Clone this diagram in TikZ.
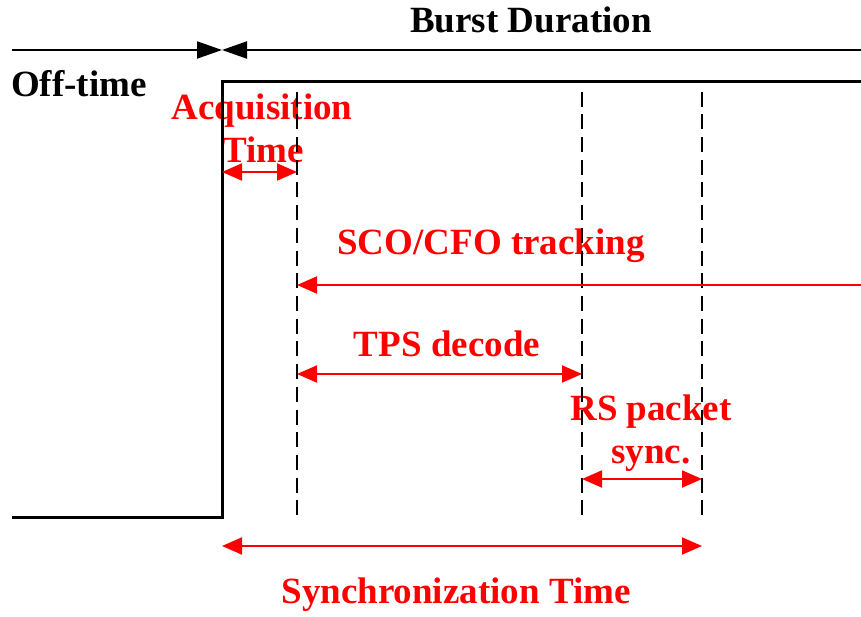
\documentclass[tikz,border=0pt]{standalone}
\usepackage{fontspec}
\setmainfont{Liberation Serif}
\usetikzlibrary{arrows.meta}
\tikzset{
  lbl/.style={font=\fontsize{37}{44}\selectfont\bfseries, inner sep=0pt, anchor=base},
  redlbl/.style={lbl, text=red},
  sig/.style={line width=3pt, black},
  guide/.style={line width=2.5pt, black, dash pattern=on 15pt off 7.7pt, dash phase=15pt},
  dim/.style={line width=2pt, red},
  redtip/.tip={Triangle[length=20pt,width=17pt]},
  blktip/.tip={Triangle[length=25pt,width=17pt]}
}
\begin{document}
\begin{tikzpicture}[x=1pt,y=-1pt]
\useasboundingbox (0,0) rectangle (861,617);
% coordinates
\coordinate (tl) at (12,50);
\coordinate (tm) at (222,50);
\coordinate (tr) at (861,50);
\coordinate (s0) at (12,517);
\coordinate (s1) at (222,517);
\coordinate (s2) at (222,82);
\coordinate (s3) at (861,82);
\coordinate (d1t) at (297,84);
\coordinate (d1b) at (297,517);
\coordinate (d2t) at (582,84);
\coordinate (d2b) at (582,517);
\coordinate (d3t) at (702,84);
\coordinate (d3b) at (702,517);
\coordinate (acqL) at (222,172);
\coordinate (acqR) at (297,172);
\coordinate (scoL) at (297,285);
\coordinate (scoR) at (861,285);
\coordinate (tpsL) at (297,374);
\coordinate (tpsR) at (582,374);
\coordinate (rsL) at (582,479);
\coordinate (rsR) at (702,479);
\coordinate (syL) at (222,546);
\coordinate (syR) at (702,546);
% texts
\node[lbl] (burst) at (531,33) {Burst Duration};
\node[lbl, anchor=base west] (off) at (11,97) {Off-time};
\node[redlbl] (acq1) at (262,120) {Acquisition};
\node[redlbl] (acq2) at (263,163) {Time};
\node[redlbl] (sco) at (491,255) {SCO/CFO tracking};
\node[redlbl] (tps) at (447,356) {TPS decode};
\node[redlbl] (rs1) at (651,420) {RS packet};
\node[redlbl] (rs2) at (651,463) {sync.};
\node[redlbl] (sy) at (456,603) {Synchronization Time};
% top duration arrows
\draw[line width=2pt, -{blktip}] (tl) -- (tm);
\draw[line width=2pt, {blktip}-] (tm) -- (tr);
% signal
\draw[sig] (s0) -- (s1) -- (s2) -- (s3);
% dashed guides
\draw[guide] (d1t) -- (d1b);
\draw[guide] (d2t) -- (d2b);
\draw[guide] (d3t) -- (d3b);
% red dimension arrows
\draw[dim, {redtip}-{redtip}] (acqL) -- (acqR);
\draw[dim, {redtip}-] (scoL) -- (scoR);
\draw[dim, {redtip}-{redtip}] (tpsL) -- (tpsR);
\draw[dim, {redtip}-{redtip}] (rsL) -- (rsR);
\draw[dim, {redtip}-{redtip}] (syL) -- (syR);
\end{tikzpicture}
\end{document}
